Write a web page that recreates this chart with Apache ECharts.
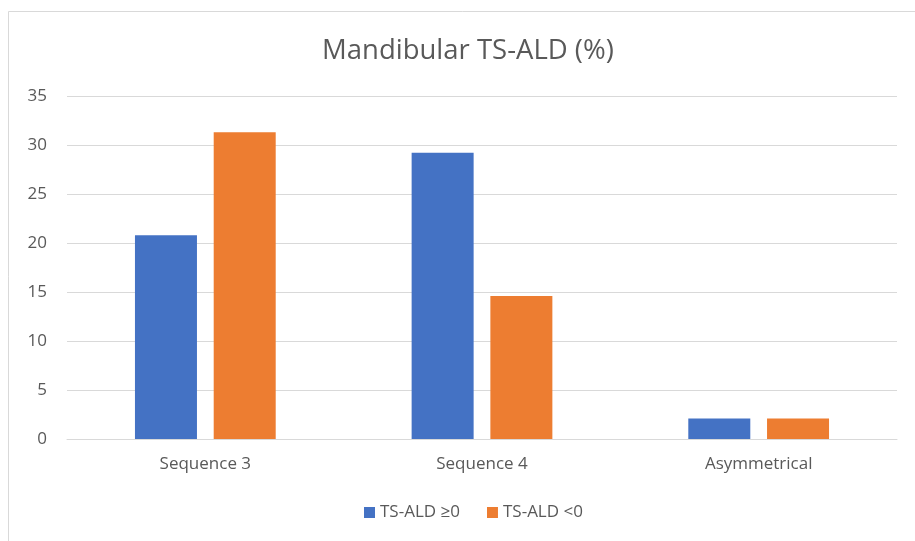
<!DOCTYPE html>
<html>
<head>
<meta charset="utf-8">
<script src="https://cdn.jsdelivr.net/npm/echarts@6/dist/echarts.min.js"></script>
<style>
  html, body { margin: 0; padding: 0; background: #fff; }
  #chart { width: 915px; height: 541px; }
</style>
</head>
<body>
<div id="chart"></div>
<script>
// categories and values
var categories = ['Sequence 3', 'Sequence 4', 'Asymmetrical'];
var seriesNames = ['TS-ALD \u22650', 'TS-ALD <0'];
var positiveVals = [20.8, 29.2, 2.1];
var negativeVals = [31.3, 14.6, 2.1];
var yTicks = [0, 5, 10, 15, 20, 25, 30, 35];

var chart = echarts.init(document.getElementById('chart'));
var textFont = '"Open Sans", "Liberation Sans", sans-serif';

var option = {
  backgroundColor: '#fff',
  animation: false,
  graphic: [{
    type: 'rect',
    shape: { x: 8.5, y: 11.5, width: 920, height: 540 },
    style: { fill: 'none', stroke: '#d9d9d9', lineWidth: 1 },
    silent: true
  }],
  title: {
    text: 'Mandibular TS-ALD (%)',
    left: 317,
    top: 32,
    textStyle: { color: '#595959', fontSize: 27.5, fontWeight: 'normal', fontFamily: textFont }
  },
  legend: {
    bottom: 15,
    left: 359,
    itemWidth: 11,
    itemHeight: 11,
    itemGap: 27,
    icon: 'rect',
    textStyle: { color: '#595959', fontSize: 17, fontFamily: textFont },
    data: seriesNames
  },
  grid: { left: 67, right: 18, top: 96, bottom: 102, containLabel: false },
  xAxis: {
    type: 'category',
    data: categories,
    axisLine: { lineStyle: { color: '#d9d9d9' } },
    axisTick: { show: false },
    axisLabel: { color: '#595959', fontSize: 17, fontFamily: textFont, margin: 17 }
  },
  yAxis: {
    type: 'value',
    min: yTicks[0],
    max: yTicks[yTicks.length - 1],
    interval: 5,
    axisLine: { show: false },
    axisTick: { show: false },
    splitLine: { lineStyle: { color: '#d9d9d9', width: 1 } },
    axisLabel: { color: '#595959', fontSize: 17, fontFamily: textFont, margin: 20 }
  },
  series: [
    {
      name: seriesNames[0],
      type: 'bar',
      data: positiveVals,
      barWidth: 62,
      barGap: '27%',
      itemStyle: { color: '#4472c4' }
    },
    {
      name: seriesNames[1],
      type: 'bar',
      data: negativeVals,
      barWidth: 62,
      itemStyle: { color: '#ed7d31' }
    }
  ]
};

chart.setOption(option);
</script>
</body>
</html>
